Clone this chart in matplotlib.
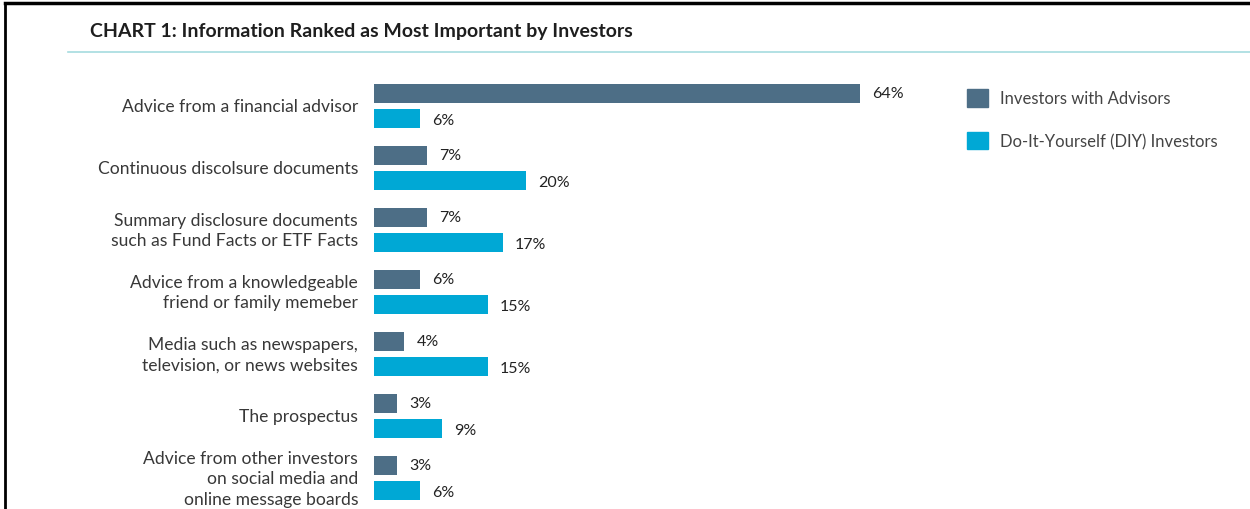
import numpy as np
import matplotlib.pyplot as plt
from matplotlib.lines import Line2D
from matplotlib.patches import Patch

plt.rcParams['font.family'] = ['Lato', 'DejaVu Sans']

categories = [
    'Advice from a financial advisor',
    'Continuous discolsure documents',
    'Summary disclosure documents\nsuch as Fund Facts or ETF Facts',
    'Advice from a knowledgeable\nfriend or family memeber',
    'Media such as newspapers,\ntelevision, or news websites',
    'The prospectus',
    'Advice from other investors\non social media and\nonline message boards',
]
with_advisors = [64, 7, 7, 6, 4, 3, 3]
diy = [6, 20, 17, 15, 15, 9, 6]
series_names = ['Investors with Advisors', 'Do-It-Yourself (DIY) Investors']
colors = ['#4d6e86', '#00a8d5']

W, H = 1250, 510
fig = plt.figure(figsize=(W / 100, H / 100), dpi=100)
fig.patch.set_facecolor('white')

# axes placed in pixel terms: bars start at x=374, 7.59 px per percent
ax_left, ax_width = 374, 700
ax_top, ax_bottom = 60, 510
ax = fig.add_axes([ax_left / W, (H - ax_bottom) / H, ax_width / W, (ax_bottom - ax_top) / H])
ax.set_xlim(0, ax_width / 7.59)
ax.set_ylim((ax_bottom - 107.25) / 62, -(107.25 - ax_top) / 62)
ax.axis('off')

y = np.arange(len(categories))
off = 0.198
h = 0.306
ax.barh(y - off, with_advisors, height=h, color=colors[0], label=series_names[0])
ax.barh(y + off, diy, height=h, color=colors[1], label=series_names[1])

for i in range(len(categories)):
    ax.text(with_advisors[i] + 1.6, y[i] - off - 0.02, f'{with_advisors[i]}%',
            va='center', ha='left', fontsize=11.5, color='#222222')
    ax.text(diy[i] + 1.6, y[i] + off + 0.02, f'{diy[i]}%',
            va='center', ha='left', fontsize=11.5, color='#222222')
    ax.text(-16 / 7.59, y[i], categories[i], va='center', ha='right',
            fontsize=12.6, color='#383838', linespacing=1.33, clip_on=False)

handles = [Patch(color=c) for c in colors]
fig.legend(handles, series_names, loc='upper left',
           bbox_to_anchor=(952 / W, 1 - 75 / H), frameon=False,
           fontsize=12, handlelength=1.25, handleheight=1.25,
           labelspacing=1.5, handletextpad=0.75, labelcolor='#444444')

fig.text(90 / W, 1 - 32 / H, 'CHART 1: Information Ranked as Most Important by Investors',
         fontsize=14, fontweight='bold', color='#1e1e1e', va='center', ha='left')

fig.add_artist(Line2D([68 / W, 1], [1 - 53 / H] * 2, color='#a6dcdf', lw=1.2))
fig.add_artist(Line2D([5 / W, 1], [1 - 4 / H] * 2, color='black', lw=2.5))
fig.add_artist(Line2D([5 / W] * 2, [0, 1 - 4 / H], color='black', lw=2))

fig.savefig('out.png', dpi=100)
